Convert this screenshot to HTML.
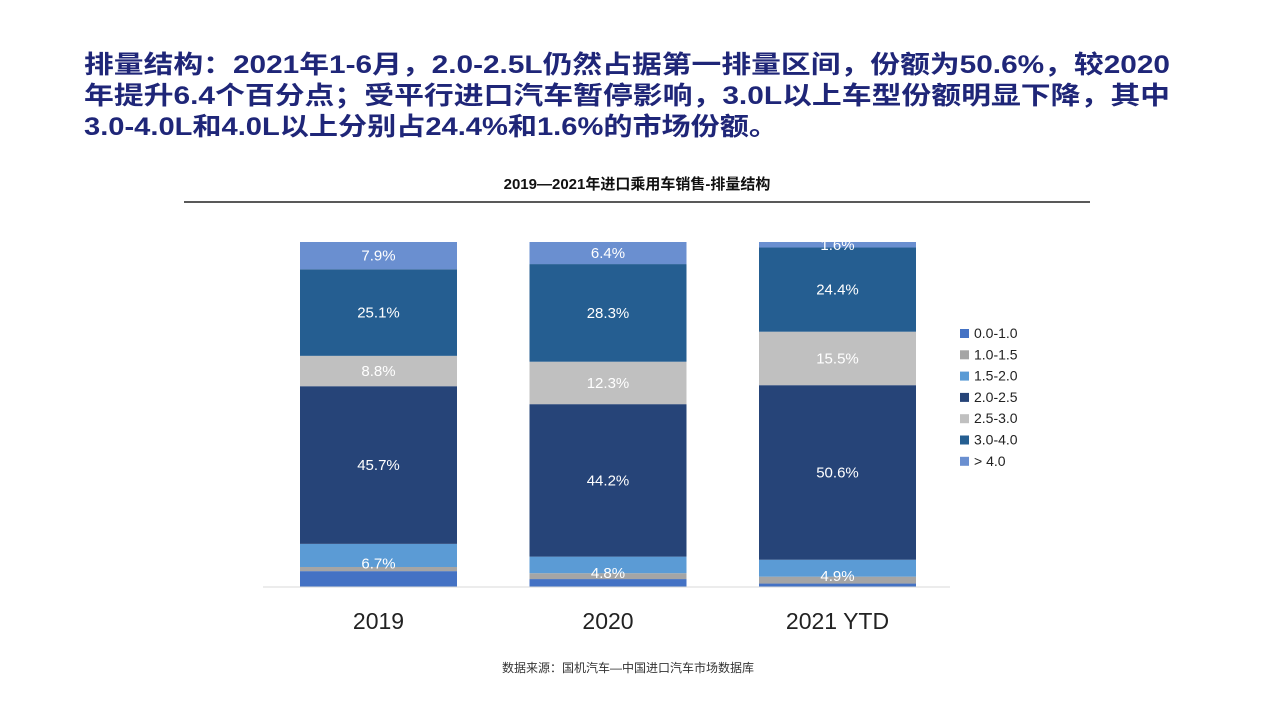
<!DOCTYPE html>
<html><head><meta charset="utf-8">
<style>
body{margin:0;width:1280px;height:720px;background:#fff;overflow:hidden;font-family:"Liberation Sans","Noto Sans CJK SC",sans-serif;}
svg{position:absolute;left:0;top:0;}
</style></head><body>
<svg id="chart" width="1280" height="720">
<g font-size="25" font-weight="bold" fill="#1f2678">
<text x="84" y="73" textLength="1086" lengthAdjust="spacingAndGlyphs">排量结构：2021年1-6月，2.0-2.5L仍然占据第一排量区间，份额为50.6%，较2020</text>
<text x="84" y="104" textLength="1086" lengthAdjust="spacingAndGlyphs">年提升6.4个百分点；受平行进口汽车暂停影响，3.0L以上车型份额明显下降，其中</text>
<text x="84" y="135" textLength="694" lengthAdjust="spacingAndGlyphs">3.0-4.0L和4.0L以上分别占24.4%和1.6%的市场份额。</text>
</g>
<text x="637" y="189" text-anchor="middle" font-size="15" font-weight="bold" fill="#111">2019—2021年进口乘用车销售-排量结构</text>
<line x1="184" y1="202" x2="1090" y2="202" stroke="#222" stroke-width="1.5"/>
<g id="bars"></g>
<line x1="263" y1="587" x2="950" y2="587" stroke="#d9d9d9" stroke-width="1"/>
<g id="legend"></g>
<text x="628" y="672" text-anchor="middle" font-size="12" fill="#333">数据来源：国机汽车—中国进口汽车市场数据库</text>
</svg>
<script>
const categories=["2019","2020","2021 YTD"];
const seriesNames=["0.0-1.0","1.0-1.5","1.5-2.0","2.0-2.5","2.5-3.0","3.0-4.0","> 4.0"];
const s00_10=[4.6,2.3,1.0];
const s10_15=[1.2,1.7,2.0];
const s15_20=[6.7,4.8,4.9];
const s20_25=[45.7,44.2,50.6];
const s25_30=[8.8,12.3,15.5];
const s30_40=[25.1,28.3,24.4];
const s40p=[7.9,6.4,1.6];
const showLabel=[[false,false,true,true,true,true,true],[false,false,true,true,true,true,true],[false,false,true,true,true,true,true]];
const series=[s00_10,s10_15,s15_20,s20_25,s25_30,s30_40,s40p];
const colors=["#4472c4","#a5a5a5","#5b9bd5","#264478","#c0c0c0","#255e91","#6a8fd0"];
const NS="http://www.w3.org/2000/svg";
const y0=587,y1=242,bw=157,x0=300,step=229.5;
const yScale=v=>y0-(v/100)*(y0-y1);
const xBand=i=>x0+i*step;
const g=document.getElementById('bars');
categories.forEach((c,i)=>{
  let cum=0;
  series.forEach((s,k)=>{
    const v=s[i];
    const top=yScale(cum+v),bot=yScale(cum);
    const r=document.createElementNS(NS,'rect');
    
    
    r.setAttribute('x',xBand(i));r.setAttribute('y',top);r.setAttribute('width',bw);r.setAttribute('height',bot-top);r.setAttribute('fill',colors[k]);
    g.appendChild(r);
    if(showLabel[i][k]){
      const t=document.createElementNS(NS,'text');
      
      
      let cy=(top+bot)/2+5;
      if(k===2) cy+=8;
      t.setAttribute('x',xBand(i)+bw/2);t.setAttribute('y',cy);t.setAttribute('text-anchor','middle');t.setAttribute('font-size','15');t.setAttribute('fill','#fff');
      t.textContent=s[i].toFixed(1)+'%';g.appendChild(t);
    }
    cum+=v;
  });
  const l=document.createElementNS(NS,'text');
  
  
  l.setAttribute('x',xBand(i)+bw/2);l.setAttribute('y',629);l.setAttribute('text-anchor','middle');l.setAttribute('font-size','23');l.setAttribute('fill','#222');
  l.textContent=c;g.appendChild(l);
});
const lg=document.getElementById('legend');
seriesNames.forEach((n,k)=>{
  const y=333+k*21.3;
  const r=document.createElementNS(NS,'rect');
  
  
  r.setAttribute('x',960);r.setAttribute('y',y-4);r.setAttribute('width',9);r.setAttribute('height',9);r.setAttribute('fill',colors[k]);
  lg.appendChild(r);
  const t=document.createElementNS(NS,'text');
  
  
  t.setAttribute('x',974);t.setAttribute('y',y+5);t.setAttribute('font-size','14');t.setAttribute('fill','#222');
  t.textContent=n;lg.appendChild(t);
});
</script>
</body></html>
